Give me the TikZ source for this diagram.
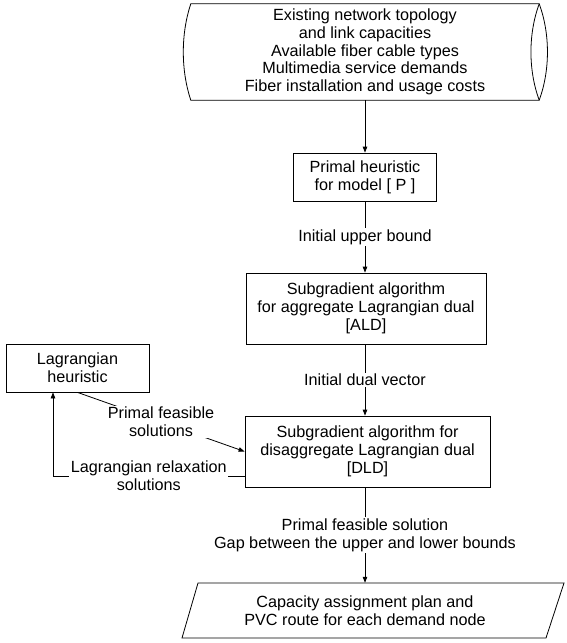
\documentclass[tikz,border=0pt]{standalone}
\usepackage{fontspec}
\setmainfont{Liberation Sans}
\usetikzlibrary{arrows.meta}
\begin{document}
\begin{tikzpicture}[x=1pt,y=-1pt,
  every node/.style={font=\fontsize{16.2}{17.8}\selectfont, align=center},
  box/.style={draw, line width=0.8pt, inner sep=0pt},
  lbl/.style={fill=white, inner sep=1.5pt},
  ln/.style={line width=0.8pt},
  arr/.style={line width=0.8pt, -{Triangle[length=6pt,width=4.5pt]}}]
\useasboundingbox (0,0) rectangle (566,643);

% input data (cylinder-like shape)
\node[minimum width=348pt, minimum height=96pt, inner sep=0pt] (inp) at (365,52)
  {Existing network topology\\and link capacities\\Available fiber cable types\\Multimedia service demands\\Fiber installation and usage costs};
\draw[ln] (inp.north west) .. controls +(-10,30) and +(-10,-30) .. (inp.south west)
  -- (inp.south east) .. controls +(11,-30) and +(11,30) .. (inp.north east) -- cycle;
\draw[ln] (inp.north east) .. controls +(-11,30) and +(-11,-30) .. (inp.south east);

% boxes
\node[box, minimum width=143pt, minimum height=48pt] (primal) at (365,177)
  {Primal heuristic\\for model [ P ]};
\node[box, minimum width=240pt, minimum height=71pt] (ald) at (366,308.5)
  {Subgradient algorithm\\for aggregate Lagrangian dual\\{[ALD]}};
\node[box, minimum width=245pt, minimum height=71pt] (dld) at (367.5,451.5)
  {Subgradient algorithm for\\disaggregate Lagrangian dual\\{[DLD]}};
\node[box, minimum width=143pt, minimum height=48pt] (lag) at (77.5,368)
  {Lagrangian\\heuristic};

% output (parallelogram)
\node[minimum height=55pt, inner sep=0pt] (fin) at (365,610.5)
  {Capacity assignment plan and\\PVC route for each demand node};
\draw[ln] (198,583) -- (564,583) -- (546,638) -- (182,638) -- cycle;

% connectors
\draw[arr] (inp.south) -- (primal.north);
\draw[arr] (primal.south) -- node[lbl]{Initial upper bound} (primal.south |- ald.north);
\draw[arr] (primal.south |- ald.south) -- node[lbl]{Initial dual vector} (primal.south |- dld.north);
\draw[arr] (primal.south |- dld.south) -- node[lbl]{Primal feasible solution\\Gap between the upper and lower bounds} (fin.north);

\coordinate (c1) at (53,476);
\draw[arr] (dld.west |- c1) -- node[lbl]{Lagrangian relaxation\\solutions} (c1) -- (c1 |- lag.south);
\draw[arr] (lag.south) -- node[lbl]{Primal feasible\\solutions} (dld.west);
\end{tikzpicture}
\end{document}
